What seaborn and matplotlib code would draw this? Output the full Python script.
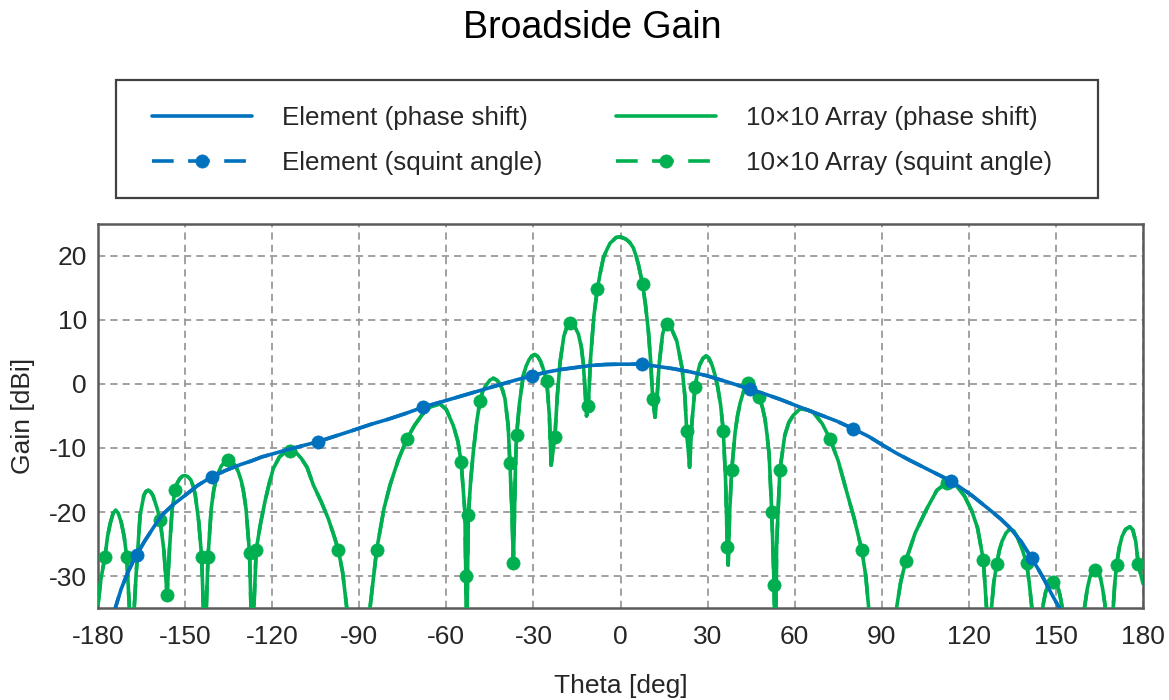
import numpy as np
import pandas as pd
import matplotlib
matplotlib.use("Agg")
import matplotlib.pyplot as plt
import matplotlib.patches as mpatches
import seaborn as sns

# ---------------- data ----------------
elem_theta = [-175.0, -173.5, -172.0, -169.5, -166.7, -164.0, -162.0, -160.0, -158.0, -154.0,
              -150.0, -145.5, -140.8, -136.0, -131.0, -127.0, -123.6, -115.0, -110.0, -104.1,
              -98.0, -93.2, -86.0, -80.0, -74.0, -67.9, -61.0, -55.0, -49.0, -43.0,
              -37.0, -30.6, -25.0, -20.0, -15.0, -10.0, -5.0, 0.0, 3.5, 7.3,
              12.0, 18.0, 24.0, 29.7, 37.0, 44.6, 50.0, 55.0, 61.8, 68.7,
              74.5, 80.2, 85.5, 90.5, 95.0, 100.0, 107.0, 114.0, 121.0, 127.3,
              131.0, 134.0, 138.0, 141.6, 144.0, 146.0, 148.5, 151.2, 153.0]
elem_gain = [-36.5, -34.2, -32.0, -29.2, -26.7, -24.6, -23.2, -21.8, -20.5, -18.8,
             -17.4, -15.8, -14.5, -13.5, -12.6, -12.0, -11.4, -10.3, -9.7, -9.0,
             -8.1, -7.4, -6.3, -5.5, -4.6, -3.6, -2.7, -1.9, -1.1, -0.3,
             0.5, 1.3, 1.9, 2.3, 2.6, 2.9, 3.05, 3.1, 3.1, 3.1,
             2.8, 2.4, 1.9, 1.3, 0.3, -0.8, -1.6, -2.4, -3.6, -4.8,
             -5.8, -7.0, -8.2, -9.6, -10.8, -12.0, -13.6, -15.2, -17.4, -19.7,
             -21.1, -22.4, -24.6, -27.2, -29.0, -30.6, -32.8, -35.0, -36.8]
elem_squint_theta = [-166.7, -140.8, -104.1, -67.9, -30.6, 7.3, 44.6, 80.2, 114.0, 141.6]

arr_theta = [
    -180.0, -179.0, -177.6, -176.7, -175.8, -174.8, -173.9, -173.0, -172.0, -171.0, -170.1, -168.4,
    -166.9, -165.5, -164.2, -163.5, -162.7, -161.8, -161.0, -159.6, -158.6, -157.3, -156.2,
    -155.4, -154.5, -153.5, -152.7, -152.0, -151.0, -150.0, -149.0, -148.0, -147.2, -146.5, -145.3, -144.3, -143.2,
    -142.1, -141.0, -140.2, -139.5, -138.5, -137.5, -136.3, -135.1, -133.8, -132.6, -131.6, -130.6, -129.8, -129.0, -127.8, -126.9,
    -125.5, -124.0, -122.5, -121.0, -119.6, -117.5, -116.0, -113.8, -112.0, -110.0, -108.0, -105.8, -103.2, -100.7, -99.0, -97.2, -95.7, -94.3, -90.4,
    -86.3, -84.0, -81.5, -79.4, -76.5, -73.6, -71.0, -68.5, -65.5, -62.2, -60.0, -57.6, -56.0, -54.9, -53.6, -53.3, -53.0,
    -52.7, -52.4, -51.6, -50.7, -49.5, -48.4, -47.5, -46.5, -45.0, -43.8, -42.6, -41.5, -40.6, -39.8, -38.7, -38.1, -37.4, -36.9,
    -36.5, -36.2, -35.8, -34.8, -33.5, -32.5, -31.5, -30.5, -29.5, -28.5, -27.5, -26.5, -25.4, -24.5, -23.9,
    -22.6, -21.8, -20.8, -19.5, -18.4, -17.4, -16.5, -15.8, -14.5, -13.5, -12.8, -12.2, -11.7,
    -11.1, -10.3, -9.2, -8.0, -7.0, -5.9, -4.7, -3.6, -1.5, 0.0, 2.0, 3.2, 4.4, 5.3, 6.2, 7.6, 8.6, 9.6, 10.4, 11.1, 11.9,
    12.6, 13.3, 14.5, 15.2, 15.9, 16.8, 17.5, 19.4, 21.2, 22.2, 22.8, 23.8,
    24.6, 25.7, 26.5, 27.3, 28.4, 29.5, 30.5, 31.5, 32.5, 33.5, 34.5, 35.4, 36.2, 36.8, 37.1,
    37.6, 38.3, 39.5, 40.3, 41.2, 42.5, 44.0, 45.0, 46.0, 47.8, 48.8, 49.8, 50.5, 51.2, 52.1, 52.9, 53.3,
    53.8, 54.9, 56.6, 58.0, 59.5, 61.8, 64.0, 66.4, 69.5, 72.2, 75.0, 77.9, 80.5, 83.1, 84.5, 85.5, 90.3,
    95.1, 96.5, 98.3, 101.5, 105.5, 109.0, 112.4, 115.5, 118.5, 121.0, 123.0, 125.0, 126.1, 127.0,
    127.9, 128.6, 129.6, 130.5, 131.5, 132.8, 134.2, 135.5, 136.8, 138.5, 139.9, 140.8, 141.6, 143.5,
    145.6, 146.4, 147.2, 148.2, 149.1, 150.0, 150.7, 151.4, 152.0, 156.0,
    160.0, 160.8, 161.7, 162.5, 163.5, 164.4, 165.3, 166.1, 166.9, 168.4,
    169.8, 170.3, 170.9, 171.8, 172.8, 174.0, 175.5, 176.5, 177.5, 178.4, 179.2, 180.0]
arr_gain = [
    -34.5, -30.5, -27.0, -23.8, -21.8, -20.2, -19.7, -20.2, -21.6, -23.8, -27.0, -42.0,
    -30.0, -20.5, -17.4, -16.8, -16.6, -16.9, -17.5, -19.5, -21.3, -26.0, -33.0,
    -26.0, -19.8, -16.6, -15.5, -14.9, -14.4, -14.3, -14.5, -15.0, -16.0, -17.3, -21.5, -27.0, -42.0,
    -27.0, -19.5, -16.8, -15.2, -13.8, -12.8, -12.2, -11.9, -12.2, -12.8, -13.8, -15.2, -17.0, -19.5, -26.4, -42.0,
    -25.9, -21.8, -18.4, -15.5, -13.2, -11.4, -10.8, -10.4, -10.6, -11.6, -13.0, -15.8, -18.3, -21.0, -23.3, -25.9, -29.5, -35.0, -48.0,
    -35.0, -25.9, -19.5, -15.8, -11.8, -8.6, -6.5, -4.9, -3.6, -3.1, -4.0, -6.5, -9.0, -12.2, -20.0, -30.0, -45.0,
    -30.0, -20.5, -15.0, -10.6, -5.8, -2.6, -1.2, -0.3, 0.6, 0.9, 0.6, 0.0, -1.0, -2.3, -6.5, -12.4, -20.0, -28.0,
    -20.0, -13.0, -8.0, -3.0, 1.3, 2.8, 3.8, 4.4, 4.6, 4.3, 3.5, 2.2, 0.5, -5.0, -12.7,
    -8.3, -2.0, 3.5, 7.5, 9.0, 9.6, 9.5, 9.0, 7.8, 5.8, 3.1, -1.0, -5.0,
    -3.4, 4.1, 10.5, 14.8, 17.3, 19.7, 21.0, 22.0, 22.9, 23.0, 22.6, 22.1, 21.3, 20.1, 18.6, 15.6, 12.4, 8.3, 3.5, -2.3, -5.2,
    -2.0, 3.0, 7.8, 8.9, 9.3, 9.1, 8.7, 6.7, 2.5, -2.0, -7.3, -13.0,
    -6.0, -0.5, 1.6, 3.0, 4.0, 4.4, 4.0, 3.0, 1.5, -0.5, -3.3, -7.3, -15.0, -25.4, -28.3,
    -20.0, -13.5, -7.5, -5.0, -3.0, -1.0, 0.2, -0.2, -0.8, -2.1, -3.5, -5.5, -8.0, -11.0, -20.0, -31.4, -45.0,
    -25.0, -13.5, -8.0, -6.0, -4.9, -3.9, -4.0, -4.4, -6.2, -8.6, -12.0, -16.8, -21.0, -25.9, -30.0, -35.0, -48.0,
    -35.0, -31.0, -27.6, -23.3, -19.5, -16.6, -15.4, -15.8, -17.5, -19.8, -22.5, -27.5, -35.0, -42.0,
    -34.5, -31.0, -28.2, -26.0, -24.5, -23.3, -22.6, -23.0, -24.0, -26.0, -28.0, -31.0, -34.5, -42.0,
    -34.5, -32.6, -31.6, -31.0, -30.9, -31.2, -31.8, -33.0, -34.5, -45.0,
    -34.5, -32.0, -30.2, -29.3, -29.0, -29.3, -30.2, -32.0, -34.5, -42.0,
    -34.5, -31.0, -28.3, -25.6, -23.8, -22.7, -22.3, -22.8, -24.6, -28.2, -29.7, -31.2]
arr_squint_theta = [-177.6, -170.1, -158.6, -156.2, -153.5, -144.3, -142.1, -135.1, -127.8,
                    -125.5, -113.8, -97.2, -84.0, -73.6, -54.9, -53.3, -52.4, -48.4, -38.1,
                    -36.9, -35.8, -25.4, -22.6, -17.4, -11.1, -8.0, 7.6, 11.1, 15.9, 22.8,
                    25.7, 35.4, 36.8, 38.3, 44.0, 47.8, 52.1, 52.9, 54.9, 72.2, 83.1, 98.3,
                    112.4, 125.0, 129.6, 139.9, 149.1, 163.5, 170.9, 178.4]

x_ticks = [-180, -150, -120, -90, -60, -30, 0, 30, 60, 90, 120, 150, 180]
y_ticks = [-30, -20, -10, 0, 10, 20]
series_labels = ["Element (phase shift)", "Element (squint angle)",
                 "10\u00d710 Array (phase shift)", "10\u00d710 Array (squint angle)"]
title_text = "Broadside Gain"
x_label = "Theta [deg]"
y_label = "Gain [dBi]"

assert len(arr_theta) == len(arr_gain)
assert len(elem_theta) == len(elem_gain)

# ---------------- style ----------------
sns.set_theme(style="white")
plt.rcParams['font.family'] = ['Liberation Sans', 'DejaVu Sans']
plt.rcParams['axes.unicode_minus'] = False

BLUE = '#0072BD'
GREEN = '#00B050'
TXT = '#262626'

W, H = 1169, 700
fig = plt.figure(figsize=(W / 100, H / 100), dpi=100)
fig.patch.set_facecolor('white')
ax = fig.add_axes([98 / W, 1 - 608 / H, (1143 - 98) / W, (608 - 224) / H])


def mark_idx(thetas, marks):
    t = np.asarray(thetas)
    return [int(np.argmin(np.abs(t - m))) for m in marks]


df_el = pd.DataFrame({"theta": elem_theta, "gain": elem_gain})
df_arr = pd.DataFrame({"theta": arr_theta, "gain": arr_gain})

LW = 2.6
MS = 9.5
dash = (6.0, 4.0)

# array (green) first, element (blue) on top
sns.lineplot(data=df_arr, x="theta", y="gain", ax=ax, color=GREEN, lw=LW,
             estimator=None, sort=False, zorder=3)
l_arr = ax.lines[-1]
sns.lineplot(data=df_arr, x="theta", y="gain", ax=ax, color=GREEN, lw=LW,
             estimator=None, sort=False, zorder=3, linestyle='--', marker='o',
             markersize=MS, markeredgecolor=GREEN, markerfacecolor=GREEN,
             markeredgewidth=0.5, markevery=mark_idx(arr_theta, arr_squint_theta))
l_arr_sq = ax.lines[-1]
l_arr_sq.set_dashes(dash)

sns.lineplot(data=df_el, x="theta", y="gain", ax=ax, color=BLUE, lw=LW,
             estimator=None, sort=False, zorder=4)
l_el = ax.lines[-1]
sns.lineplot(data=df_el, x="theta", y="gain", ax=ax, color=BLUE, lw=LW,
             estimator=None, sort=False, zorder=4, linestyle='--', marker='o',
             markersize=MS, markeredgecolor=BLUE, markerfacecolor=BLUE,
             markeredgewidth=0.5, markevery=mark_idx(elem_theta, elem_squint_theta))
l_el_sq = ax.lines[-1]
l_el_sq.set_dashes(dash)

for ln in ax.lines:
    ln.set_solid_joinstyle('round')
    ln.set_dash_joinstyle('round')

if ax.get_legend() is not None:
    ax.get_legend().remove()

ax.set_xlim(-180, 180)
ax.set_ylim(-35, 25)
ax.set_xticks(x_ticks)
ax.set_yticks(y_ticks)
ax.set_xticklabels([str(v) for v in x_ticks])
ax.set_yticklabels([str(v) for v in y_ticks])
ax.tick_params(axis='both', labelsize=19, colors=TXT, direction='in', length=0)
ax.tick_params(axis='x', pad=12)
ax.tick_params(axis='y', pad=8)

ax.grid(True, color='#9a9a9a', lw=1.3, ls=(0, (4, 2.8)))
ax.set_axisbelow(True)
for s in ax.spines.values():
    s.set_color('#5a5a5a')
    s.set_linewidth(1.8)
    s.set_visible(True)

ax.set_xlabel(x_label, fontsize=19, color=TXT)
ax.set_ylabel(y_label, fontsize=19, color=TXT)
ax.xaxis.set_label_coords(0.5, -(674 - 608) / 384)
ax.yaxis.set_label_coords((35 - 98) / 1045, 0.5)

fig.text(592.5 / W, 1 - 38 / H, title_text, ha='center', va='baseline',
         fontsize=27, color='black')

# legend frame drawn as a plain figure rectangle, entries placed inside it
frame = mpatches.Rectangle((116 / W, 1 - 198 / H), (1098 - 116) / W, (198 - 80) / H,
                           transform=fig.transFigure, fill=True, facecolor='white',
                           edgecolor='#404040', lw=1.6, zorder=1)
fig.patches.append(frame)

leg = fig.legend([l_el, l_el_sq, l_arr, l_arr_sq], series_labels, ncol=2,
                 loc='upper left', bbox_to_anchor=(152 / W, 1 - 106 / H),
                 fontsize=18.7, frameon=False, borderaxespad=0.0,
                 handlelength=3.85, handletextpad=1.15, columnspacing=2.85,
                 borderpad=0.0, labelspacing=0.81, numpoints=1)
leg.set_zorder(2)
for t in leg.get_texts():
    t.set_color(TXT)

fig.savefig("out.png", dpi=100, facecolor='white')
